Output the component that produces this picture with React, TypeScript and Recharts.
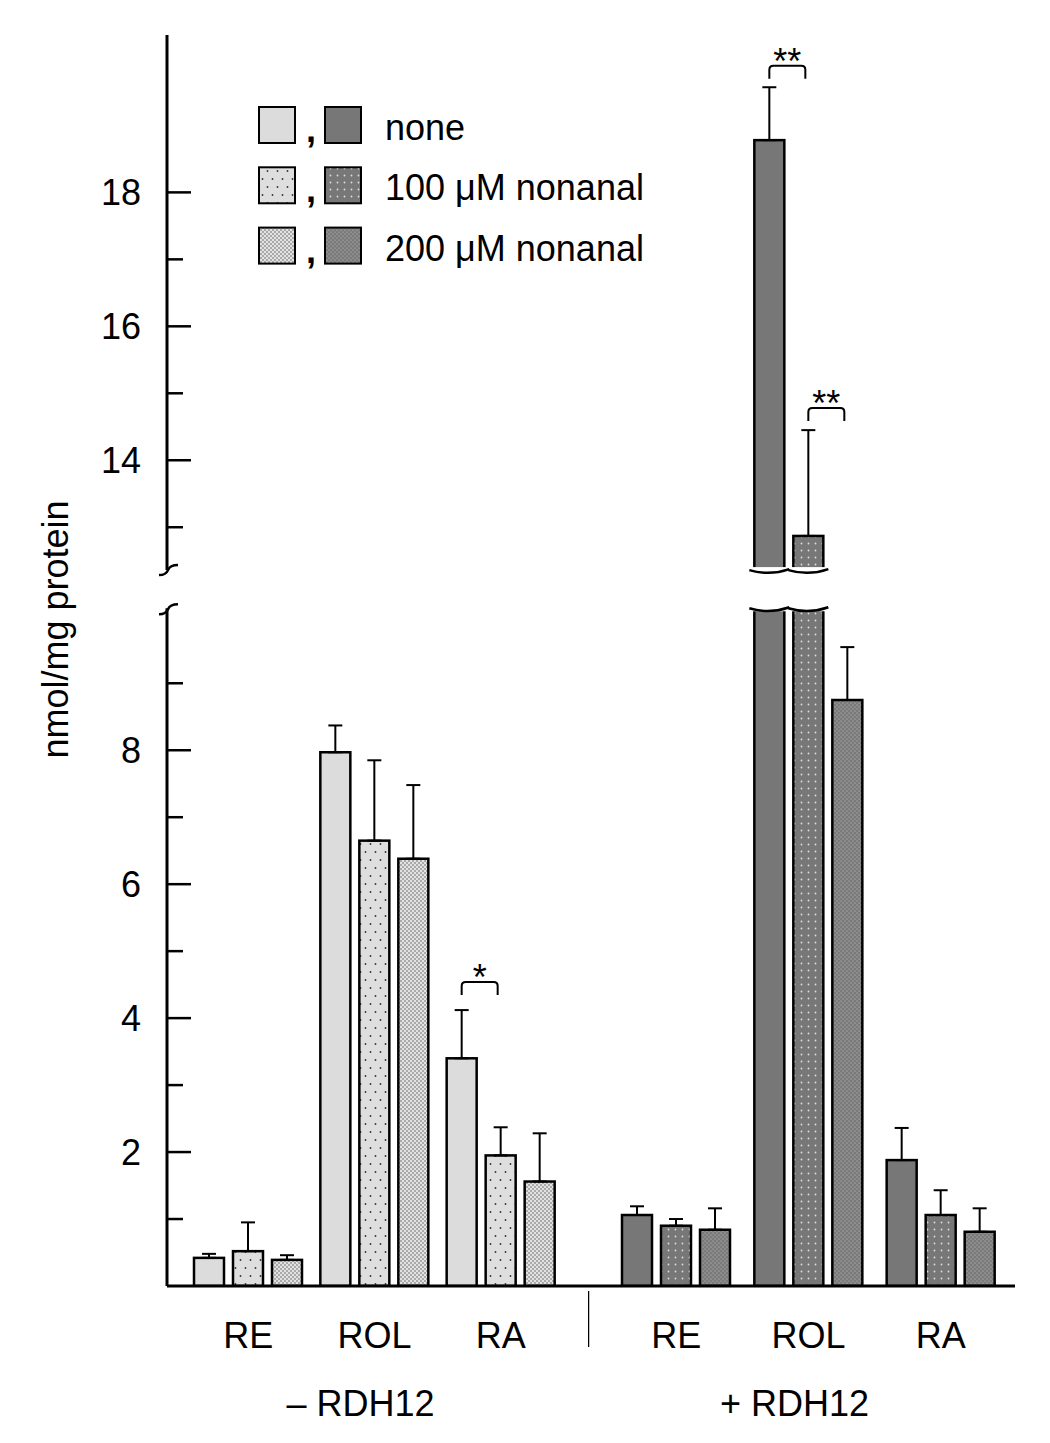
import React from 'react';
import { BarChart, Bar, XAxis, YAxis, ErrorBar, ReferenceArea, Legend } from 'recharts';

const categories = ['RE', 'ROL', 'RA'];
const groups = ['– RDH12', '+ RDH12'];
const seriesNames = ['none', '100 μM nonanal', '200 μM nonanal'];

// – RDH12 (nmol/mg protein), upper error only
const minusNone = [0.42, 7.97, 3.4];
const minus100 = [0.52, 6.65, 1.95];
const minus200 = [0.39, 6.38, 1.56];
const minusNoneErr = [0.06, 0.4, 0.72];
const minus100Err = [0.43, 1.2, 0.42];
const minus200Err = [0.07, 1.1, 0.72];

// + RDH12
const plusNone = [1.06, 18.78, 1.88];
const plus100 = [0.9, 12.87, 1.06];
const plus200 = [0.84, 8.75, 0.81];
const plusNoneErr = [0.13, 0.79, 0.48];
const plus100Err = [0.1, 1.58, 0.37];
const plus200Err = [0.32, 0.79, 0.35];

const yTicks = [1, 2, 3, 4, 5, 6, 7, 8, 9, 13, 14, 15, 16, 17, 18];
const yLabels = [2, 4, 6, 8, 14, 16, 18];

// broken axis: lower part 0..breakLow, upper part breakHigh..yTop
const breakLow = 10.12;
const breakHigh = 12.36;
const breakGap = 0.57;
const yTop = 20.35;

// significance brackets
const sigGroup = [0, 1, 1];
const sigCategory = ['RA', 'ROL', 'ROL'];
const sigSeries = [0, 0, 1];
const sigLevel = [4.54, 19.89, 14.78];
const sigMark = ['*', '**', '**'];

const font = '"Liberation Sans", Arial, sans-serif';
const barGap = 9;
const padMinus = { left: 18, right: 24 };
const padPlus = { left: 22, right: 8 };

const shift = breakHigh - breakLow - breakGap;
const toPlot = (v: number) => (v <= breakLow ? v : v - shift);
const fromPlot = (p: number) => (p <= breakLow + 1e-6 ? p : p + shift);

const makeRows = (vals: number[][], errs: number[][]) =>
  categories.map((name, i) => {
    const row: any = { name };
    vals.forEach((s, k) => {
      row[`s${k}`] = toPlot(s[i]);
      row[`e${k}`] = [0, toPlot(s[i] + errs[k][i]) - toPlot(s[i])];
    });
    return row;
  });

const rowsMinus = makeRows([minusNone, minus100, minus200], [minusNoneErr, minus100Err, minus200Err]);
const rowsPlus = makeRows([plusNone, plus100, plus200], [plusNoneErr, plus100Err, plus200Err]);

const Patterns = ({ p }: { p: string }) => (
  <defs>
    <pattern id={`${p}L1`} width="10" height="16" patternUnits="userSpaceOnUse">
      <rect width="10" height="16" fill="#dedede" />
      <circle cx="2.5" cy="4" r="0.9" fill="#333" />
      <circle cx="7.5" cy="12" r="0.9" fill="#333" />
    </pattern>
    <pattern id={`${p}L2`} width="4" height="4" patternUnits="userSpaceOnUse">
      <rect width="4" height="4" fill="#e2e2e2" />
      <circle cx="1" cy="1" r="0.7" fill="#444" />
      <circle cx="3" cy="3" r="0.7" fill="#444" />
    </pattern>
    <pattern id={`${p}D1`} width="7" height="7" patternUnits="userSpaceOnUse">
      <rect width="7" height="7" fill="#777" />
      <circle cx="3.5" cy="3.5" r="0.9" fill="#ddd" />
    </pattern>
    <pattern id={`${p}D2`} width="4" height="4" patternUnits="userSpaceOnUse">
      <rect width="4" height="4" fill="#7a7a7a" />
      <circle cx="1" cy="1" r="0.6" fill="#c8c8c8" />
      <circle cx="3" cy="3" r="0.6" fill="#c8c8c8" />
    </pattern>
  </defs>
);

const lightFill = (p: string, i: number) => (i === 0 ? '#dcdcdc' : `url(#${p}L${i})`);
const darkFill = (p: string, i: number) => (i === 0 ? '#777777' : `url(#${p}D${i})`);

const makeShape = (group: number, series: number) => (props: any) => {
  const { x, y, width, height, fill, payload } = props;
  const base = y + height;
  const plotted = payload[`s${series}`];
  const ppu = plotted > 0 ? height / plotted : 0;
  const parts: React.ReactNode[] = [
    <rect key="r" x={x} y={y} width={width} height={height} fill={fill} stroke="#000" strokeWidth={2.5} />,
  ];
  if (plotted > breakLow + breakGap) {
    const yLo = base - breakLow * ppu;
    const yHi = base - (breakLow + breakGap) * ppu;
    const x0 = x - 5;
    const x1 = x + width + 5;
    parts.push(<rect key="gap" x={x - 3} y={yHi - 3} width={width + 6} height={yLo - yHi + 6} fill="#fff" />);
    parts.push(
      <path key="w1" d={`M ${x0} ${yLo} Q ${x + width / 2} ${yLo + 6} ${x1} ${yLo - 1}`} fill="none" stroke="#000" strokeWidth={2.5} />,
      <path key="w2" d={`M ${x0} ${yHi} Q ${x + width / 2} ${yHi + 6} ${x1} ${yHi - 1}`} fill="none" stroke="#000" strokeWidth={2.5} />
    );
  }
  sigGroup.forEach((g, k) => {
    if (g !== group || sigSeries[k] !== series || sigCategory[k] !== payload.name || !ppu) return;
    const cx1 = x + width / 2;
    const cx2 = cx1 + width + barGap - 3;
    const by = base - toPlot(sigLevel[k]) * ppu;
    parts.push(
      <path
        key={`b${k}`}
        d={`M ${cx1} ${by + 13} L ${cx1} ${by + 4} Q ${cx1} ${by} ${cx1 + 4} ${by} L ${cx2 - 4} ${by} Q ${cx2} ${by} ${cx2} ${by + 4} L ${cx2} ${by + 13}`}
        fill="none"
        stroke="#000"
        strokeWidth={2}
      />,
      <text key={`t${k}`} x={(cx1 + cx2) / 2} y={by + 8} textAnchor="middle" fontSize={36} fontFamily={font}>
        {sigMark[k]}
      </text>
    );
  });
  return <g>{parts}</g>;
};

const YTick = (props: any) => {
  const { x, y, payload } = props;
  const v = Math.round(fromPlot(payload.value));
  const major = yLabels.includes(v);
  return (
    <g>
      <line x1={x} x2={x + (major ? 24 : 16)} y1={y} y2={y} stroke="#000" strokeWidth={2.5} />
      {major && (
        <text x={x - 26} y={y} dy={13} textAnchor="end" fontSize={36} fontFamily={font} fill="#000">
          {v}
        </text>
      )}
    </g>
  );
};

const makeXTick = (group: number) => (props: any) => {
  const { x, y, payload, index } = props;
  return (
    <g>
      <text x={x} y={y + 62} textAnchor="middle" fontSize={36} fontFamily={font} fill="#000">
        {payload.value}
      </text>
      {index === 1 && (
        <text x={x - 14} y={y + 130} textAnchor="middle" fontSize={36} fontFamily={font} fill="#000">
          {groups[group]}
        </text>
      )}
    </g>
  );
};

// left axis line with break marks (reference area starts after the x padding)
const squiggle = (x: number, y0: number) =>
  `M ${x - 8} ${y0 + 5} Q ${x - 1} ${y0 + 5} ${x + 1} ${y0} T ${x + 11} ${y0 - 5}`;

const AxisLower = (p: any) => {
  const ax = p.x - padMinus.left;
  return (
    <g>
      <line x1={ax} x2={ax} y1={p.y} y2={p.y + p.height} stroke="#000" strokeWidth={3} />
      <path d={squiggle(ax, p.y + 1)} fill="none" stroke="#000" strokeWidth={2.5} />
    </g>
  );
};
const AxisUpper = (p: any) => {
  const ax = p.x - padMinus.left;
  return (
    <g>
      <line x1={ax} x2={ax} y1={p.y} y2={p.y + p.height} stroke="#000" strokeWidth={3} />
      <path d={squiggle(ax, p.y + p.height)} fill="none" stroke="#000" strokeWidth={2.5} />
    </g>
  );
};

const LegendBox = () => (
  <svg width={420} height={180}>
    <Patterns p="lg" />
    {seriesNames.map((name, i) => {
      const top = 12 + i * 60.3;
      return (
        <g key={name}>
          <rect x={9} y={top} width={36} height={36} fill={lightFill('lg', i)} stroke="#000" strokeWidth={2} />
          <text x={61} y={top + 35} textAnchor="middle" fontSize={36} fontWeight="bold" fontFamily={font}>
            ,
          </text>
          <rect x={75} y={top} width={36} height={36} fill={darkFill('lg', i)} stroke="#000" strokeWidth={2} />
          <text x={135} y={top + 33} fontSize={36} fontFamily={font}>
            {name}
          </text>
        </g>
      );
    })}
  </svg>
);

const frameAxis = { stroke: '#000', strokeWidth: 3 };
const yDomain = [0, toPlot(yTop)];

const App: React.FC = () => {
  return (
    <div style={{ position: 'relative', width: 1034, height: 1427, background: '#fff' }}>
      <div style={{ position: 'absolute', left: 0, top: 0 }}>
        <BarChart width={580} height={1420} data={rowsMinus} margin={{ top: 27, right: 0, bottom: 0, left: 0 }} barSize={30} barGap={barGap}>
          <Patterns p="m" />
          <XAxis dataKey="name" height={142} padding={padMinus} tickLine={false} tickSize={0} tickMargin={0} axisLine={frameAxis} tick={makeXTick(0)} interval={0} />
          <XAxis xAxisId="top" orientation="top" dataKey="name" height={0} tick={false} tickLine={false} axisLine={frameAxis} />
          <YAxis
            type="number"
            domain={yDomain}
            allowDataOverflow
            ticks={yTicks.map(toPlot)}
            interval={0}
            width={159}
            axisLine={false}
            tickLine={false}
            tickSize={0}
            tickMargin={0}
            tick={YTick}
            label={{
              content: (p: any) => {
                const vb = p.viewBox;
                const cx = vb.x + 60;
                const cy = vb.y + vb.height / 2 - 31;
                return (
                  <text x={cx} y={cy} transform={`rotate(-90 ${cx} ${cy})`} textAnchor="middle" fontSize={36} fontFamily={font} fill="#000">
                    nmol/mg protein
                  </text>
                );
              },
            }}
          />
          <ReferenceArea y1={0} y2={breakLow} shape={AxisLower} ifOverflow="visible" />
          <ReferenceArea y1={breakLow + breakGap} y2={toPlot(yTop)} shape={AxisUpper} ifOverflow="visible" />
          <Legend content={LegendBox} layout="horizontal" verticalAlign="middle" align="center" wrapperStyle={{ left: 242, top: 87, width: 420 }} />
          {[0, 1, 2].map((k) => (
            <Bar key={k} dataKey={`s${k}`} name={seriesNames[k]} fill={lightFill('m', k)} shape={makeShape(0, k)} isAnimationActive={false}>
              <ErrorBar dataKey={`e${k}`} width={7} stroke="#000" strokeWidth={2} isAnimationActive={false} />
            </Bar>
          ))}
        </BarChart>
      </div>
      <div style={{ position: 'absolute', left: 580, top: 0 }}>
        <BarChart width={430} height={1420} data={rowsPlus} margin={{ top: 27, right: 3, bottom: 0, left: 0 }} barSize={30} barGap={barGap}>
          <Patterns p="p" />
          <XAxis
            dataKey="name"
            height={142}
            padding={padPlus}
            tickLine={false}
            tickSize={0}
            tickMargin={0}
            axisLine={frameAxis}
            tick={makeXTick(1)}
            interval={0}
            label={{
              content: (p: any) => {
                const vb = p.viewBox;
                return <line x1={vb.x} x2={vb.x} y1={vb.y + 5} y2={vb.y + 61} stroke="#000" strokeWidth={2.5} />;
              },
            }}
          />
          <XAxis xAxisId="top" orientation="top" dataKey="name" height={0} tick={false} tickLine={false} axisLine={frameAxis} />
          <YAxis type="number" domain={yDomain} allowDataOverflow hide />
          <YAxis yAxisId="right" orientation="right" type="number" domain={[0, 1]} width={0} tick={false} tickLine={false} axisLine={frameAxis} />
          {[0, 1, 2].map((k) => (
            <Bar key={k} dataKey={`s${k}`} name={seriesNames[k]} fill={darkFill('p', k)} shape={makeShape(1, k)} isAnimationActive={false}>
              <ErrorBar dataKey={`e${k}`} width={7} stroke="#000" strokeWidth={2} isAnimationActive={false} />
            </Bar>
          ))}
        </BarChart>
      </div>
    </div>
  );
};

export default App;
